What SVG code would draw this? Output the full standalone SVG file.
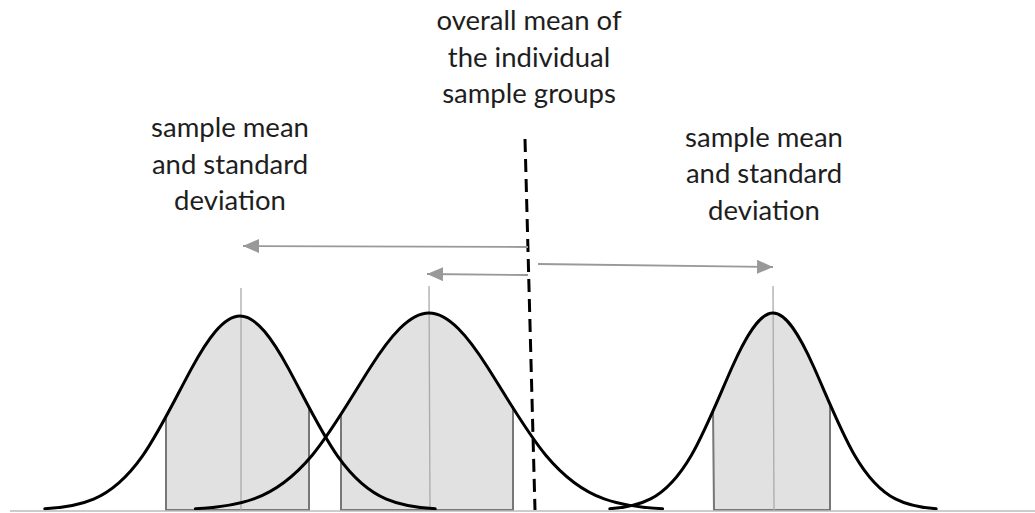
<svg xmlns="http://www.w3.org/2000/svg" width="1035" height="513" viewBox="0 0 1035 513">
<style>
.lbl{font-family:Lato,"Liberation Sans",sans-serif;font-size:27.5px;fill:#1e1e1e;text-anchor:middle}
.curve{fill:none;stroke:#000;stroke-width:3;stroke-linecap:round;stroke-linejoin:round}
.area{fill:#e1e1e1;stroke:none}
.edge{fill:none;stroke:#777;stroke-width:2}
.mean{stroke:#aaa;stroke-width:1.3}
.arr{stroke:#999;stroke-width:1.8;fill:none}
</style>
<defs>
<clipPath id="c1"><rect x="166" y="0" width="143" height="511"/></clipPath>
<clipPath id="c2"><rect x="341" y="0" width="172" height="511"/></clipPath>
<clipPath id="c3"><rect x="713" y="0" width="117" height="511"/></clipPath>
<marker id="ah" viewBox="0 0 16 14" refX="16" refY="7" markerWidth="16" markerHeight="14" markerUnits="userSpaceOnUse" orient="auto">
<path d="M0,0 L16,7 L0,14 Z" fill="#999"/>
</marker>
</defs>
<rect width="1035" height="513" fill="#fff"/>

<g id="shading">
<path class="area" clip-path="url(#c1)" d="M44.8,508.8 C61.1,507.8 77.3,506.1 93.6,499.1 C109.9,492.2 126.1,479.1 142.4,456.1 C158.7,433.1 174.9,399.2 191.2,369.1 C207.5,339.1 223.7,316 240,316 C256.3,316 272.5,339.1 288.8,369.1 C305.1,399.2 321.3,433.1 337.6,456.1 C353.9,479.1 370.1,492.2 386.4,499.1 C402.7,506.1 418.9,507.8 435.2,508.8 L435.2,510 L44.8,510 Z"/>
<path class="area" clip-path="url(#c2)" d="M195.4,508.8 C214.9,507.8 234.3,506 253.8,498.9 C273.3,491.9 292.7,478.6 312.2,455.2 C331.7,431.9 351.1,397.5 370.6,367 C390.1,336.4 409.5,313 429,313 C448.5,313 467.9,336.4 487.4,367 C506.9,397.5 526.3,431.9 545.8,455.2 C565.3,478.6 584.7,491.9 604.2,498.9 C623.7,506 643.1,507.8 662.6,508.8 L662.6,510 L195.4,510 Z"/>
<path class="area" clip-path="url(#c3)" d="M609.8,508.8 C623.4,507.8 637,506 650.6,498.9 C664.2,491.9 677.8,478.6 691.4,455.2 C705,431.9 718.6,397.5 732.2,367 C745.8,336.4 759.4,313 773,313 C786.6,313 800.2,336.4 813.8,367 C827.4,397.5 841,431.9 854.6,455.2 C868.2,478.6 881.8,491.9 895.4,498.9 C909,506 922.6,507.8 936.2,508.8 L936.2,510 L609.8,510 Z"/>
<polyline class="edge" points="166,415 166,510 309,510 309,406"/>
<polyline class="edge" points="341,413 341,510 513,510 513,406"/>
<polyline class="edge" points="713,409 714,510 830,510 830,403"/>
<line class="mean" x1="241" y1="288" x2="241" y2="510"/>
<line class="mean" x1="429" y1="286" x2="430" y2="510"/>
<line class="mean" x1="773" y1="286" x2="774" y2="510"/>
</g>

<g id="dist1">
<path class="curve" d="M44.8,508.8 C61.1,507.8 77.3,506.1 93.6,499.1 C109.9,492.2 126.1,479.1 142.4,456.1 C158.7,433.1 174.9,399.2 191.2,369.1 C207.5,339.1 223.7,316 240,316 C256.3,316 272.5,339.1 288.8,369.1 C305.1,399.2 321.3,433.1 337.6,456.1 C353.9,479.1 370.1,492.2 386.4,499.1 C402.7,506.1 418.9,507.8 435.2,508.8"/>
</g>

<g id="dist2">
<path class="curve" d="M195.4,508.8 C214.9,507.8 234.3,506 253.8,498.9 C273.3,491.9 292.7,478.6 312.2,455.2 C331.7,431.9 351.1,397.5 370.6,367 C390.1,336.4 409.5,313 429,313 C448.5,313 467.9,336.4 487.4,367 C506.9,397.5 526.3,431.9 545.8,455.2 C565.3,478.6 584.7,491.9 604.2,498.9 C623.7,506 643.1,507.8 662.6,508.8"/>
</g>

<g id="dist3">
<path class="curve" d="M609.8,508.8 C623.4,507.8 637,506 650.6,498.9 C664.2,491.9 677.8,478.6 691.4,455.2 C705,431.9 718.6,397.5 732.2,367 C745.8,336.4 759.4,313 773,313 C786.6,313 800.2,336.4 813.8,367 C827.4,397.5 841,431.9 854.6,455.2 C868.2,478.6 881.8,491.9 895.4,498.9 C909,506 922.6,507.8 936.2,508.8"/>
</g>

<g id="connectors">
<line x1="10" y1="511" x2="1035" y2="511" stroke="#bbb" stroke-width="1.5"/>
<line x1="525" y1="139" x2="535" y2="510" stroke="#000" stroke-width="3" stroke-dasharray="13 7"/>
<line class="arr" x1="528" y1="247" x2="243" y2="246" marker-end="url(#ah)"/>
<line class="arr" x1="528" y1="275" x2="427" y2="274" marker-end="url(#ah)"/>
<line class="arr" x1="538" y1="264" x2="773" y2="267" marker-end="url(#ah)"/>
</g>

<g id="label-overall">
<text class="lbl" x="529" y="30">overall mean of</text>
<text class="lbl" x="529" y="67">the individual</text>
<text class="lbl" x="529" y="103">sample groups</text>
</g>
<g id="label-left">
<text class="lbl" x="230" y="137">sample mean</text>
<text class="lbl" x="230" y="174">and standard</text>
<text class="lbl" x="230" y="210">deviation</text>
</g>
<g id="label-right">
<text class="lbl" x="764" y="147">sample mean</text>
<text class="lbl" x="764" y="183">and standard</text>
<text class="lbl" x="764" y="220">deviation</text>
</g>
</svg>
